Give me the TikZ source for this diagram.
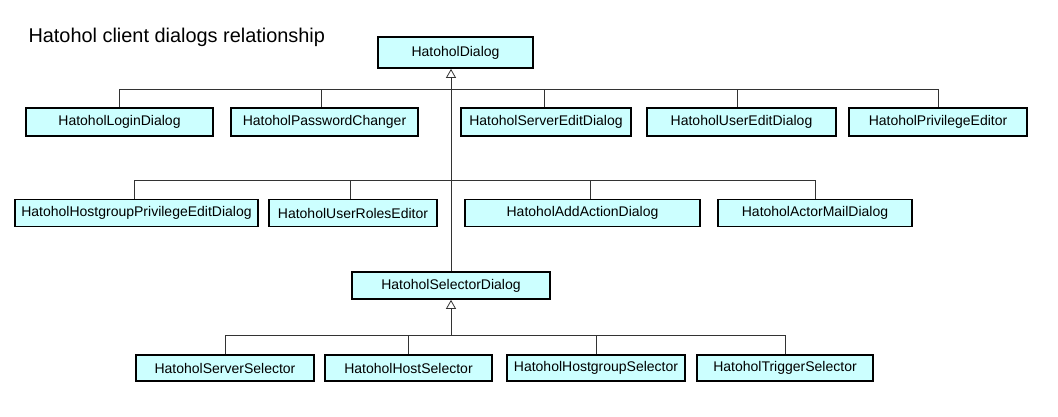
\documentclass[tikz,border=0pt]{standalone}
\usepackage{fontspec}
\setmainfont{Liberation Sans}
\usepackage{tikz}
\usetikzlibrary{arrows.meta}
\definecolor{boxfill}{HTML}{CCFFFF}
\definecolor{linkgray}{HTML}{333333}
\tikzset{
  cls/.style={draw=black, line width=1.7pt, fill=boxfill, inner sep=0pt,
    minimum height=27pt, font=\fontsize{14}{16}\selectfont},
  link/.style={draw=linkgray, line width=0.8pt},
  gen/.style={link, -{Triangle[open, width=10pt, length=9pt]}}
}

\begin{document}
\begin{tikzpicture}[x=1pt, y=-1pt]
\useasboundingbox (0,0) rectangle (1058,416);
\node[anchor=base west, font=\fontsize{19.9}{22}\selectfont] (title) at (25,42) {Hatohol client dialogs relationship};
\node[cls, minimum width=155pt, minimum height=31pt] (dialog) at (455.5,52.5) {HatoholDialog};
\node[cls, minimum width=198pt] (selector) at (451,285.5) {HatoholSelectorDialog};
% first row
\foreach \n/\x/\w/\t in {login/119.5/187/HatoholLoginDialog, passwd/324.5/187/HatoholPasswordChanger,
  srvedit/546/170/HatoholServerEditDialog, usredit/741.5/189/HatoholUserEditDialog,
  privedit/938/178/HatoholPrivilegeEditor} {
 \node[cls, minimum width=\w pt, minimum height=28pt] (\n) at (\x,122) {\t};
}
% second row
\foreach \n/\x/\w/\t in {hgpriv/136.5/243/HatoholHostgroupPrivilegeEditDialog, roles/353/168/HatoholUserRolesEditor,
  addaction/582.5/235/HatoholAddActionDialog, actormail/815/194/HatoholActorMailDialog} {
 \node[cls, minimum width=\w pt] (\n) at (\x,213) {\t};
}
% selectors
\foreach \n/\x/\w/\t in {srvsel/225/178/HatoholServerSelector, hostsel/408.5/167/HatoholHostSelector,
  hgsel/596/178/HatoholHostgroupSelector, trigsel/785/176/HatoholTriggerSelector} {
 \node[cls, minimum width=\w pt, minimum height=26pt] (\n) at (\x,368) {\t};
}
\coordinate (bus1) at (selector.north |- 0,89);
\coordinate (bus2) at (selector.north |- 0,180);
\coordinate (bus3) at (selector.south |- 0,335);
\foreach \n/\d in {login/0,passwd/-3.5,srvedit/-2,usredit/-4,privedit/0}
 \draw[link] ([xshift=\d pt]\n.north) |- (bus1);
\foreach \n/\d in {hgpriv/-2,roles/-3,addaction/7.5,actormail/0}
 \draw[link] ([xshift=\d pt]\n.north) |- (bus2);
\foreach \n in {srvsel,hostsel,hgsel,trigsel}
 \draw[link] (\n.north) |- (bus3);
\draw[gen] (selector.north) -- (selector.north |- dialog.south);
\draw[gen] (bus3) -- (selector.south);
\end{tikzpicture}
\end{document}
